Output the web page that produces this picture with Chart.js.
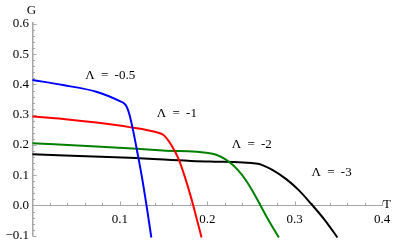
<!DOCTYPE html>
<html>
<head>
<meta charset="utf-8">
<script src="https://cdn.jsdelivr.net/npm/chart.js@4"></script>
<style>
  html, body { margin: 0; padding: 0; background: #fff; }
  #wrap { width: 400px; height: 247px; }
</style>
</head>
<body>
<div id="wrap"><canvas id="g_chart"></canvas></div>
<script>
// values (T, G)
var tBlue = [0, 0.035, 0.073, 0.100, 0.105, 0.108, 0.111, 0.115, 0.120, 0.125, 0.1305, 0.136];
var gBlue = [0.415, 0.398, 0.376, 0.345, 0.337, 0.325, 0.300, 0.250, 0.176, 0.098, 0.0, -0.106];

var tRed = [0, 0.035, 0.073, 0.111, 0.142, 0.150, 0.159, 0.167, 0.174, 0.182, 0.188, 0.1935];
var gRed = [0.294, 0.286, 0.274, 0.259, 0.242, 0.233, 0.199, 0.155, 0.098, 0.021, -0.045, -0.106];

var tGreen = [0, 0.073, 0.149, 0.203, 0.211, 0.220, 0.230, 0.240, 0.250, 0.260, 0.271, 0.282];
var gGreen = [0.206, 0.195, 0.182, 0.173, 0.167, 0.154, 0.132, 0.100, 0.057, 0.005, -0.053, -0.106];

var tBlack = [0, 0.111, 0.203, 0.258, 0.265, 0.275, 0.290, 0.305, 0.319, 0.335, 0.349];
var gBlack = [0.169, 0.158, 0.145, 0.138, 0.131, 0.117, 0.088, 0.050, 0.005, -0.050, -0.106];

var seriesNames = ['Λ = -0.5', 'Λ = -1', 'Λ = -2', 'Λ = -3'];

var tTicks = [0, 0.1, 0.2, 0.3, 0.4];
var tTickLabels = ['', '0.1', '0.2', '0.3', '0.4'];
var gTicks = [-0.1, 0, 0.1, 0.2, 0.3, 0.4, 0.5, 0.6];
var gTickLabels = ['\u22120.1', '0.0', '0.1', '0.2', '0.3', '0.4', '0.5', '0.6'];

var AXIS = '#a6a6a6';
var FONT = '"Liberation Serif", "DejaVu Serif", serif';

function toPoints(ts, gs) {
    var pts = [];
    for (var i = 0; i < ts.length; i++) {
        pts.push({x: ts[i], y: gs[i]});
    }
    return pts;
}

function line(label, ts, gs, color) {
    return {
        label: label,
        data: toPoints(ts, gs),
        borderColor: color,
        backgroundColor: color,
        borderWidth: 2,
        pointRadius: 0,
        cubicInterpolationMode: 'monotone',
        fill: false,
        clip: 3,
    };
}

// minor / major ticks inside the axes, axis names and curve labels
var decorPlugin = {
    id: 'decor',
    beforeDatasetsDraw: function (chart) {
        var ctx = chart.ctx;
        var xs = chart.scales.x;
        var ys = chart.scales.y;
        var x0 = xs.getPixelForValue(0);
        var y0 = ys.getPixelForValue(0);
        ctx.save();
        ctx.strokeStyle = AXIS;
        ctx.lineWidth = 1;
        ctx.beginPath();
        for (var i = 1; i <= 20; i++) {
            var t = i * 0.02;
            var px = Math.round(xs.getPixelForValue(t)) + 0.5;
            var len = (i % 5 === 0) ? 4 : 2.5;
            ctx.moveTo(px, y0);
            ctx.lineTo(px, y0 - len);
        }
        for (var j = -5; j <= 30; j++) {
            if (j === 0) continue;
            var g = j * 0.02;
            var py = Math.round(ys.getPixelForValue(g)) + 0.5;
            var len2 = (j % 5 === 0) ? 4 : 2.5;
            ctx.moveTo(x0, py);
            ctx.lineTo(x0 + len2, py);
        }
        ctx.stroke();
        ctx.restore();
    },
    afterDraw: function (chart) {
        var ctx = chart.ctx;
        var xs = chart.scales.x;
        var ys = chart.scales.y;
        ctx.save();
        ctx.fillStyle = '#000';
        ctx.font = '13px ' + FONT;
        ctx.textBaseline = 'alphabetic';
        ctx.textAlign = 'center';
        ctx.fillText('G', xs.getPixelForValue(0) - 1, 13.5);
        ctx.textAlign = 'left';
        ctx.fillText('T', 383, 208);
        ctx.wordSpacing = '3px';
        var spots = [[0.0605, 0.418], [0.1423, 0.294], [0.228, 0.190], [0.3194, 0.096]];
        for (var k = 0; k < seriesNames.length; k++) {
            ctx.fillText(seriesNames[k], xs.getPixelForValue(spots[k][0]), ys.getPixelForValue(spots[k][1]));
        }
        ctx.restore();
    }
};

var g_ctx = document.getElementById('g_chart');
var myChart = new Chart(g_ctx, {
    type: 'line',
    data: {
        datasets: [
            line(seriesNames[0], tBlue, gBlue, '#0000ff'),
            line(seriesNames[1], tRed, gRed, '#ff0000'),
            line(seriesNames[2], tGreen, gGreen, '#008000'),
            line(seriesNames[3], tBlack, gBlack, '#000000'),
        ]
    },
    options: {
        responsive: true,
        maintainAspectRatio: false,
        animation: false,
        events: [],
        layout: {
            padding: {left: 0, right: 18, top: 22.5, bottom: 10.7}
        },
        plugins: {
            legend: {display: false},
            tooltip: {enabled: false},
        },
        scales: {
            x: {
                type: 'linear',
                min: 0,
                max: 0.4,
                position: {y: 0},
                grid: {display: false, drawTicks: false},
                border: {display: true, color: AXIS, width: 1},
                afterBuildTicks: function (scale) {
                    scale.ticks = tTicks.map(function (v) { return {value: v}; });
                },
                ticks: {
                    padding: 6,
                    maxRotation: 0,
                    autoSkip: false,
                    color: '#000',
                    font: {family: FONT, size: 13},
                    callback: function (value, index) {
                        return tTickLabels[index];
                    }
                }
            },
            y: {
                type: 'linear',
                min: -0.1,
                max: 0.605,
                position: 'left',
                grid: {display: false, drawTicks: false},
                border: {display: true, color: AXIS, width: 1.5},
                afterBuildTicks: function (scale) {
                    scale.ticks = gTicks.map(function (v) { return {value: v}; });
                },
                afterFit: function (scale) {
                    scale.width = 32.5;
                },
                ticks: {
                    padding: 3.5,
                    autoSkip: false,
                    color: '#000',
                    font: {family: FONT, size: 13},
                    callback: function (value, index) {
                        return gTickLabels[index];
                    }
                }
            }
        }
    },
    plugins: [decorPlugin]
});
</script>
</body>
</html>
